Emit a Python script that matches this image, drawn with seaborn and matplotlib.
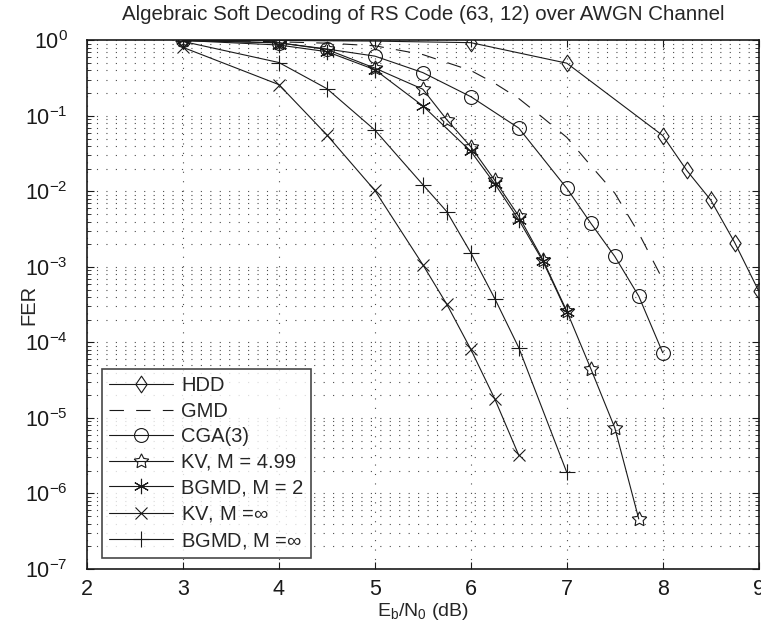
import numpy as np
import pandas as pd
import matplotlib
matplotlib.use("Agg")
import matplotlib.pyplot as plt
import seaborn as sns
from matplotlib.ticker import LogLocator, FixedLocator, NullFormatter

# Eb/N0 (dB) and FER for each decoder
hdd_x = [3, 4, 5, 6, 7, 8, 8.25, 8.5, 8.75, 9]
hdd_y = [1.0, 1.0, 0.98, 0.935, 0.5, 0.055, 0.019, 0.0077, 0.0021, 0.00048]

gmd_x = [3, 3.5, 4, 4.5, 5, 5.5, 6, 6.25, 6.5, 6.75, 7, 7.25, 7.5, 7.75, 8]
gmd_y = [1.0, 0.99, 0.96, 0.92, 0.85, 0.65, 0.4, 0.27, 0.17, 0.095, 0.052, 0.022, 0.0095, 0.0028, 0.00068]

cga_x = [3, 4, 4.5, 5, 5.5, 6, 6.5, 7, 7.25, 7.5, 7.75, 8]
cga_y = [1.0, 0.93, 0.77, 0.62, 0.375, 0.18, 0.069, 0.011, 0.0038, 0.00138, 0.00041, 7.3e-5]

kv499_x = [3, 4, 4.5, 5, 5.5, 5.75, 6, 6.25, 6.5, 6.75, 7, 7.25, 7.5, 7.75]
kv499_y = [1.0, 0.93, 0.76, 0.43, 0.226, 0.089, 0.039, 0.0140, 0.0047, 0.00125, 2.6e-4, 4.5e-5, 7.4e-6, 4.6e-7]

bgmd2_x = [3, 4, 4.5, 5, 5.5, 6, 6.25, 6.5, 6.75, 7]
bgmd2_y = [1.0, 0.87, 0.71, 0.41, 0.136, 0.034, 0.0126, 0.0042, 0.0012, 2.5e-4]

kvinf_x = [3, 4, 4.5, 5, 5.5, 5.75, 6, 6.25, 6.5]
kvinf_y = [0.81, 0.26, 0.056, 0.0103, 0.00107, 3.2e-4, 8.1e-5, 1.78e-5, 3.2e-6]

bgmdinf_x = [3, 4, 4.5, 5, 5.5, 5.75, 6, 6.25, 6.5, 7]
bgmdinf_y = [0.97, 0.51, 0.23, 0.065, 0.0123, 0.0054, 0.00154, 3.8e-4, 8.5e-5, 1.9e-6]

labels = ["HDD", "GMD", "CGA(3)", r"KV, M = 4.99", r"BGMD, M = 2",
          r"KV, M =$\infty$", r"BGMD, M =$\infty$"]

sns.set_theme(style="ticks")
plt.rcParams["font.family"] = ["Liberation Sans", "DejaVu Sans"]
plt.rcParams["mathtext.fontset"] = "custom"
plt.rcParams["mathtext.rm"] = "Liberation Sans"
plt.rcParams["mathtext.it"] = "Liberation Sans:italic"

tall_diamond = [(-0.68, 0), (0, 1), (0.68, 0), (0, -1), (-0.68, 0)]
asterisk = (6, 2, 0)
star = (5, 1, 0)

series = [
    (hdd_x, hdd_y, dict(marker=tall_diamond, markersize=12, linestyle="-")),
    (gmd_x, gmd_y, dict(marker=None, linestyle=(0, (13, 11)))),
    (cga_x, cga_y, dict(marker="o", markersize=10, linestyle="-")),
    (kv499_x, kv499_y, dict(marker=star, markersize=11, linestyle="-")),
    (bgmd2_x, bgmd2_y, dict(marker=asterisk, markersize=11, linestyle="-")),
    (kvinf_x, kvinf_y, dict(marker="x", markersize=9, linestyle="-")),
    (bgmdinf_x, bgmdinf_y, dict(marker="+", markersize=12, linestyle="-")),
]

fig = plt.figure(figsize=(7.61, 6.31), dpi=100)
ax = fig.add_axes([0.1143, 0.0983, 0.8827, 0.8376])

for (xs, ys, st), lab in zip(series, labels):
    df = pd.DataFrame({"ebn0": xs, "fer": ys})
    sns.lineplot(data=df, x="ebn0", y="fer", ax=ax, color="k", linewidth=0.8,
                 label=lab, markerfacecolor="none", markeredgecolor="k",
                 markeredgewidth=0.8, **st)

ax.set_yscale("log")
ax.set_xlim(2, 9)
ax.set_ylim(1e-7, 1)
ax.xaxis.set_major_locator(FixedLocator(range(2, 10)))
ax.yaxis.set_major_locator(LogLocator(base=10, numticks=20))
ax.yaxis.set_minor_locator(LogLocator(base=10, subs=np.arange(2, 10), numticks=20))
ax.yaxis.set_minor_formatter(NullFormatter())

grid_ls = (0, (1, 7.5))
ax.grid(True, which="major", linestyle=grid_ls, color="0.3", linewidth=0.8)
ax.grid(True, which="minor", axis="y", linestyle=grid_ls, color="0.3", linewidth=0.8)

ax.tick_params(which="both", direction="in", top=True, right=True, labelsize=15.5, colors="k")
ax.tick_params(which="major", length=5, width=0.8)
ax.tick_params(which="minor", length=3, width=0.6)
ax.tick_params(axis="x", pad=7)
ax.tick_params(axis="y", pad=14)
for sp in ax.spines.values():
    sp.set_color("k")
    sp.set_linewidth(1.2)

ax.set_title("Algebraic Soft Decoding of RS Code (63, 12) over AWGN Channel", fontsize=14.8, pad=15)
ax.set_xlabel(r"E$_\mathrm{b}$/N$_0$ (dB)", fontsize=14, labelpad=1)
ax.set_ylabel("FER", fontsize=14.5)
ax.yaxis.set_label_coords(-0.073, 0.5)

leg = ax.legend(loc="lower left", bbox_to_anchor=(0.022, 0.021), borderaxespad=0,
                fontsize=14.5, handlelength=3.2, handletextpad=0.4, labelspacing=0.33,
                frameon=True, fancybox=False, edgecolor="k", borderpad=0.35)
leg.get_frame().set_linewidth(1.2)

fig.savefig("out.png", dpi=100)
